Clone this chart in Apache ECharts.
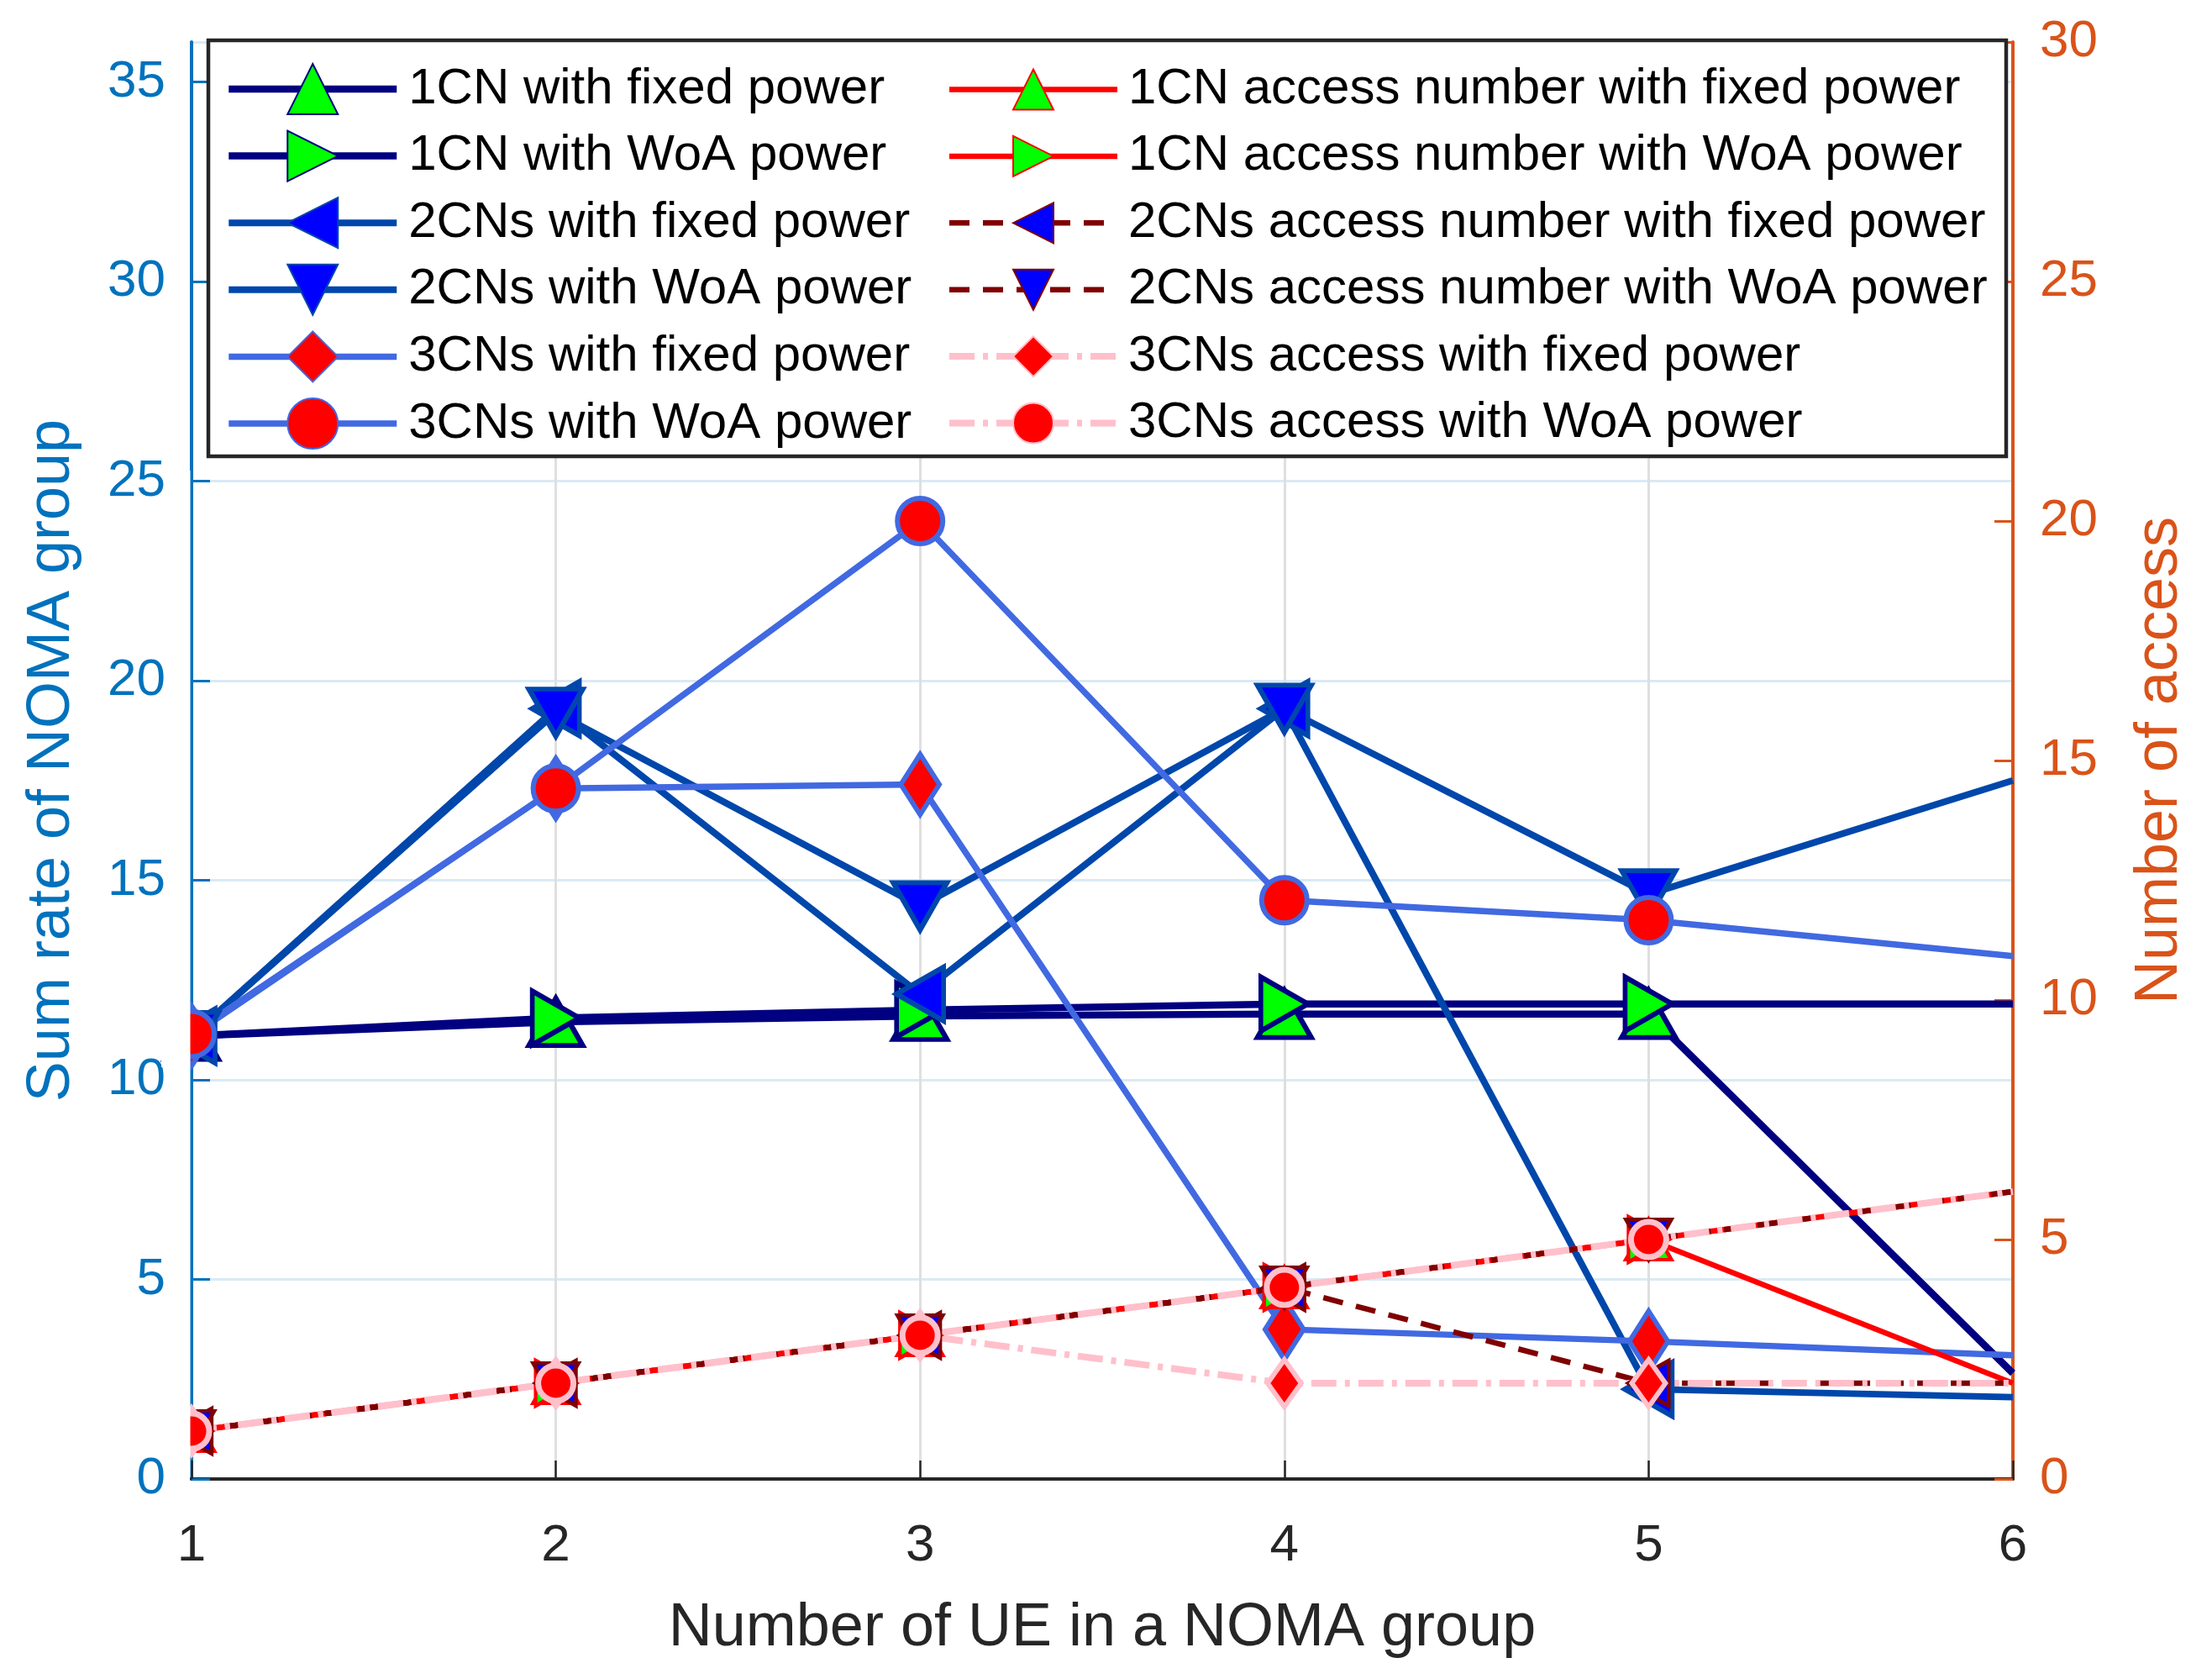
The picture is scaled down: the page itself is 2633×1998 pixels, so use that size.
<!DOCTYPE html>
<html>
<head>
<meta charset="utf-8">
<script src="https://cdn.jsdelivr.net/npm/echarts@6/dist/echarts.min.js"></script>
<style>
  html, body { margin: 0; padding: 0; background: #fff; }
  #chart { width: 2633px; height: 1998px; }
</style>
</head>
<body>
<div id="chart"></div>
<script>
// ---- data ----
const xValues = [1, 2, 3, 4, 5, 6];
const xTickLabels = ['1', '2', '3', '4', '5', '6'];
const leftTicks = [0, 5, 10, 15, 20, 25, 30, 35];
const rightTicks = [0, 5, 10, 15, 20, 25, 30];

const rate1CNFixed   = [11.1, 11.45, 11.6, 11.65, 11.65, 2.65];
const rate1CNWoA     = [11.1, 11.55, 11.75, 11.9, 11.9, 11.9];
const rate2CNsFixed  = [11.1, 19.3, 12.15, 19.3, 2.25, 2.05];
const rate2CNsWoA    = [11.1, 19.2, 14.35, 19.3, 14.65, 17.5];
const rate3CNsFixed  = [11.1, 17.3, 17.4, 3.75, 3.45, 3.1];
const rate3CNsWoA    = [11.15, 17.3, 24.0, 14.5, 14.0, 13.1];

const access1CNFixed  = [1, 2, 3, 4, 5, 2];
const access1CNWoA    = [1, 2, 3, 4, 5, 6];
const access2CNsFixed = [1, 2, 3, 4, 2, 2];
const access2CNsWoA   = [1, 2, 3, 4, 5, 6];
const access3CNsFixed = [1, 2, 3, 2, 2, 2];
const access3CNsWoA   = [1, 2, 3, 4, 5, 6];

const leftNames = ['1CN with fixed power', '1CN with WoA power', '2CNs with fixed power',
                   '2CNs with WoA power', '3CNs with fixed power', '3CNs with WoA power'];
const rightNames = ['1CN access number with fixed power', '1CN access number with WoA power',
                    '2CNs access number with fixed power', '2CNs access number with WoA power',
                    '3CNs access with fixed power', '3CNs access with WoA power'];

// ---- build ----
const FONT = 'Liberation Sans, Arial, Helvetica, sans-serif';
function pts(arr) {
  // the reference shows no marker at the right edge (x = 6)
  return xValues.map((x, i) => i === xValues.length - 1
    ? { value: [x, arr[i]], symbol: 'none' }
    : [x, arr[i]]);
}
function mk(name, arr, axis, line, lw, ltype, symbol, size, rot, fill, bw) {
  return {
    name: name, type: 'line', yAxisIndex: axis, data: pts(arr),
    color: line,
    lineStyle: { color: line, width: lw, type: ltype },
    symbol: symbol, symbolSize: size, symbolRotate: rot,
    itemStyle: { color: fill, borderColor: line, borderWidth: bw },
    emphasis: { disabled: true },
    animation: false, z: 2
  };
}
const NAVY = '#000080', COBALT = '#0047AB', ROYAL = '#4169E1';
const RED = '#FF0000', DRED = '#800000', PINK = '#FFC0CB';
const GREEN = '#00FF00', BLUE = '#0000FF';
const TRI = [64, 56], TRI_R = [54, 48];
const DASH = [24, 16], DASHDOT = [30, 10, 6, 10];

const series = [
  mk(leftNames[0], rate1CNFixed, 0, NAVY, 8.5, 'solid', 'triangle', TRI, 0, GREEN, 6),
  mk(leftNames[1], rate1CNWoA, 0, NAVY, 8.5, 'solid', 'triangle', TRI, -90, GREEN, 6),
  mk(leftNames[2], rate2CNsFixed, 0, COBALT, 8, 'solid', 'triangle', TRI, 90, BLUE, 6),
  mk(leftNames[3], rate2CNsWoA, 0, COBALT, 8, 'solid', 'triangle', TRI, 180, BLUE, 6),
  mk(leftNames[4], rate3CNsFixed, 0, ROYAL, 7.5, 'solid', 'diamond', [46, 72], 0, RED, 6),
  mk(leftNames[5], rate3CNsWoA, 0, ROYAL, 7.5, 'solid', 'circle', 54, 0, RED, 6),
  mk(rightNames[0], access1CNFixed, 1, RED, 6.5, 'solid', 'triangle', TRI_R, 0, GREEN, 4.5),
  mk(rightNames[1], access1CNWoA, 1, RED, 6.5, 'solid', 'triangle', TRI_R, -90, GREEN, 4.5),
  mk(rightNames[2], access2CNsFixed, 1, DRED, 6.5, DASH, 'triangle', TRI_R, 90, BLUE, 4.5),
  mk(rightNames[3], access2CNsWoA, 1, DRED, 6.5, DASH, 'triangle', TRI_R, 180, BLUE, 4.5),
  mk(rightNames[4], access3CNsFixed, 1, PINK, 8, DASHDOT, 'diamond', [40, 56], 0, RED, 6),
  mk(rightNames[5], access3CNsWoA, 1, PINK, 8, DASHDOT, 'circle', 42, 0, RED, 7)
];

const chart = echarts.init(document.getElementById('chart'), null, { renderer: 'canvas' });
const option = {
  backgroundColor: '#ffffff',
  animation: false,
  textStyle: { fontFamily: FONT },
  grid: { left: 228, right: 237, top: 50, bottom: 238, containLabel: false, outerBoundsMode: 'none' },
  xAxis: {
    type: 'value', min: 1, max: 6, interval: 1,
    name: 'Number of UE in a NOMA group', nameLocation: 'middle', nameGap: 142,
    nameTextStyle: { fontSize: 72, color: '#262626', fontFamily: FONT },
    axisLine: { show: true, onZero: false, lineStyle: { color: '#262626', width: 4 } },
    axisTick: { show: true, inside: true, length: 22, lineStyle: { color: '#262626', width: 2.5 } },
    axisLabel: { fontSize: 62, color: '#262626', margin: 49, fontFamily: FONT,
                 formatter: v => xTickLabels[xValues.indexOf(v)] ?? '' },
    splitLine: { show: true, lineStyle: { color: '#dfdfdf', width: 3 } }
  },
  yAxis: [
    {
      type: 'value', min: 0, max: 36, interval: 5, position: 'left',
      name: 'Sum rate of NOMA group', nameLocation: 'middle', nameGap: 130, nameRotate: 90,
      nameTextStyle: { fontSize: 72, color: '#0072BD', fontFamily: FONT },
      axisLine: { show: true, onZero: false, lineStyle: { color: '#0072BD', width: 4 } },
      axisTick: { show: true, inside: true, length: 22, lineStyle: { color: '#0072BD', width: 3 } },
      axisLabel: { fontSize: 62, color: '#0072BD', margin: 31, fontFamily: FONT, showMaxLabel: false,
                   formatter: v => leftTicks.includes(v) ? String(v) : '' },
      splitLine: { show: true, lineStyle: { color: '#d9eaf5', width: 3 } }
    },
    {
      type: 'value', min: 0, max: 30, interval: 5, position: 'right',
      name: 'Number of access', nameLocation: 'middle', nameGap: 139, nameRotate: 90,
      nameTextStyle: { fontSize: 72, color: '#D95319', fontFamily: FONT },
      axisLine: { show: true, onZero: false, lineStyle: { color: '#D95319', width: 4 } },
      axisTick: { show: true, inside: true, length: 22, lineStyle: { color: '#D95319', width: 3 } },
      axisLabel: { fontSize: 62, color: '#D95319', margin: 32, fontFamily: FONT,
                   formatter: v => rightTicks.includes(v) ? String(v) : '' },
      splitLine: { show: false }
    }
  ],
  legend: [
    {
      data: leftNames, orient: 'vertical', left: 268, top: 75, padding: 0,
      itemWidth: 200, itemHeight: 75, itemGap: 17.6,
      lineStyle: { width: 'inherit', type: 'inherit' },
      textStyle: { fontSize: 60, color: '#000000', fontFamily: FONT, padding: [0, 0, 0, 9] },
      selectedMode: false, z: 4
    },
    {
      data: rightNames, orient: 'vertical', left: 1126, top: 76.5, padding: 0,
      itemWidth: 200, itemHeight: 60, itemGap: 19.4,
      lineStyle: { width: 'inherit', type: 'inherit' },
      textStyle: { fontSize: 60, color: '#000000', fontFamily: FONT, padding: [0, 0, 0, 8] },
      selectedMode: false, z: 4
    }
  ],
  graphic: {
    elements: [
      { type: 'rect', z: 3, shape: { x: 248, y: 48, width: 2140, height: 495 },
        style: { fill: '#ffffff', stroke: '#262626', lineWidth: 4.5 } },
      // markers at x = 1 are clipped by the plot edge in the reference
      { type: 'rect', zlevel: 1, z: 3, shape: { x: 198, y: 560, width: 28.5, height: 1198 },
        style: { fill: '#ffffff' } },
      { type: 'rect', zlevel: 1, z: 3, shape: { x: 186, y: 1180, width: 40, height: 76 },
        style: { fill: '#ffffff' } },
      { type: 'rect', zlevel: 1, z: 3, shape: { x: 192, y: 1250, width: 34, height: 20 },
        style: { fill: '#ffffff' } },
      { type: 'rect', zlevel: 1, z: 3, shape: { x: 186, y: 1650, width: 40, height: 82 },
        style: { fill: '#ffffff' } }
    ]
  },
  series: series
};
chart.setOption(option);
</script>
</body>
</html>
